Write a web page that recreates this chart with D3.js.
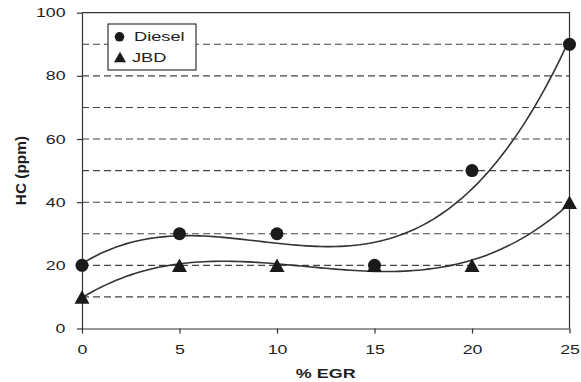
<!DOCTYPE html>
<html>
<head>
<meta charset="utf-8">
<script src="https://cdn.jsdelivr.net/npm/d3@7"></script>
<style>
  html, body { margin: 0; padding: 0; background: #fff; }
  svg { display: block; font-family: "Liberation Sans", Arial, Helvetica, sans-serif; }
</style>
</head>
<body>
<svg id="chart" width="581" height="382"></svg>
<script>
// HC emissions versus exhaust gas recirculation
const egr = [0, 5, 10, 15, 20, 25];
const diesel = [20, 30, 30, 20, 50, 90];
const jbd = [10, 20, 20, 20, 20, 40];
const seriesNames = ["Diesel", "JBD"];
const yTicks = [0, 20, 40, 60, 80, 100];
const xTicks = [0, 5, 10, 15, 20, 25];
const gridValues = [10, 20, 30, 40, 50, 60, 70, 80, 90];

const ink = "#1a1a1a";
const lineInk = "#333";
const textScale = 1.42; // wide lettering

const svg = d3.select("#chart");
const x = d3.scaleLinear().domain([0, 25]).range([82, 569.5]);
const y = d3.scaleLinear().domain([0, 100]).range([328.5, 12.7]);

// Least-squares cubic trendline
function cubicFit(xs, ys) {
  const n = 4;
  const A = Array.from({length: n}, () => new Array(n + 1).fill(0));
  xs.forEach((xv, k) => {
    for (let i = 0; i < n; i++) {
      for (let j = 0; j < n; j++) A[i][j] += Math.pow(xv, i + j);
      A[i][n] += ys[k] * Math.pow(xv, i);
    }
  });
  for (let c = 0; c < n; c++) {
    let p = c;
    for (let r = c + 1; r < n; r++) if (Math.abs(A[r][c]) > Math.abs(A[p][c])) p = r;
    [A[c], A[p]] = [A[p], A[c]];
    for (let r = 0; r < n; r++) {
      if (r === c) continue;
      const f = A[r][c] / A[c][c];
      for (let k = c; k <= n; k++) A[r][k] -= f * A[c][k];
    }
  }
  const coef = A.map((row, i) => row[n] / row[i]);
  return v => coef.reduce((s, c, i) => s + c * Math.pow(v, i), 0);
}

// Dashed horizontal grid
svg.append("g").selectAll("line").data(gridValues).join("line")
  .attr("x1", x(0)).attr("x2", x(25))
  .attr("y1", d => y(d)).attr("y2", d => y(d))
  .attr("stroke", "#444").attr("stroke-width", 1.1)
  .attr("stroke-dasharray", "7,4");

// Frame (top and right)
svg.append("path")
  .attr("d", `M${x(0)},${y(100)}H${x(25)}V${y(0)}`)
  .attr("fill", "none").attr("stroke", lineInk).attr("stroke-width", 1.2);

// Axes
const yAxis = svg.append("g").attr("transform", `translate(${x(0)},0)`)
  .call(d3.axisLeft(y).tickValues(yTicks).tickSize(5).tickSizeOuter(0).tickPadding(11.5));
const xAxis = svg.append("g").attr("transform", `translate(0,${y(0)})`)
  .call(d3.axisBottom(x).tickValues(xTicks).tickSize(5).tickSizeOuter(0).tickPadding(11.5));

[yAxis, xAxis].forEach(g => {
  g.select(".domain").attr("stroke", lineInk).attr("stroke-width", 1.2);
  g.selectAll(".tick line").attr("stroke", lineInk).attr("stroke-width", 1.2);
  g.selectAll("text").attr("font-size", 12.5).attr("fill", "#1e1e1e")
    .attr("font-family", "'Liberation Sans', Arial, sans-serif");
});
yAxis.selectAll("text").each(function () {
  const t = d3.select(this);
  t.attr("x", +t.attr("x") / textScale).attr("transform", `scale(${textScale},1)`);
});
xAxis.selectAll("text").attr("transform", `scale(${textScale},1)`);

// Axis titles
svg.append("text")
  .attr("transform", `translate(${(x(0) + x(25)) / 2},377.5) scale(1.38,1)`)
  .attr("text-anchor", "middle").attr("font-size", 13).attr("font-weight", "bold")
  .attr("fill", "#1e1e1e").text("% EGR");
svg.append("text")
  .attr("transform", `translate(25.5,${(y(0) + y(100)) / 2}) rotate(-90) scale(1.1,1)`)
  .attr("text-anchor", "middle").attr("font-size", 14).attr("font-weight", "bold")
  .attr("fill", "#1e1e1e").text("HC (ppm)");

// Trendlines
const samples = d3.range(0, 25.001, 0.25);
const line = d3.line().x(d => x(d[0])).y(d => y(d[1]));
[diesel, jbd].forEach(vals => {
  const f = cubicFit(egr, vals);
  svg.append("path")
    .datum(samples.map(v => [v, f(v)]))
    .attr("d", line)
    .attr("fill", "none").attr("stroke", lineInk).attr("stroke-width", 1.6);
});

// Markers
const tri = (cx, cy, hw, h) =>
  `M${cx},${cy - h / 2}L${cx + hw},${cy + h / 2}L${cx - hw},${cy + h / 2}Z`;

svg.append("g").selectAll("circle").data(egr).join("circle")
  .attr("cx", (d) => x(d)).attr("cy", (d, i) => y(diesel[i]))
  .attr("r", 6.5).attr("fill", ink);

svg.append("g").selectAll("path").data(egr).join("path")
  .attr("d", (d, i) => tri(x(d), y(jbd[i]), 7.5, 13.5))
  .attr("fill", ink);

// Legend
const lg = svg.append("g");
lg.append("rect").attr("x", 108).attr("y", 24).attr("width", 88).attr("height", 46)
  .attr("fill", "#fff").attr("stroke", lineInk).attr("stroke-width", 1.2);
lg.append("circle").attr("cx", 119.5).attr("cy", 36.8).attr("r", 4.8).attr("fill", ink);
lg.append("path").attr("d", tri(120, 57, 6, 10.5)).attr("fill", ink);
lg.selectAll("text.lbl").data(seriesNames).join("text")
  .attr("class", "lbl")
  .attr("transform", (d, i) => `translate(${i ? 132 : 134},${i ? 61.5 : 41}) scale(${textScale + 0.04},1)`)
  .attr("font-size", 12.5).attr("fill", "#1e1e1e").text(d => d);
</script>
</body>
</html>
